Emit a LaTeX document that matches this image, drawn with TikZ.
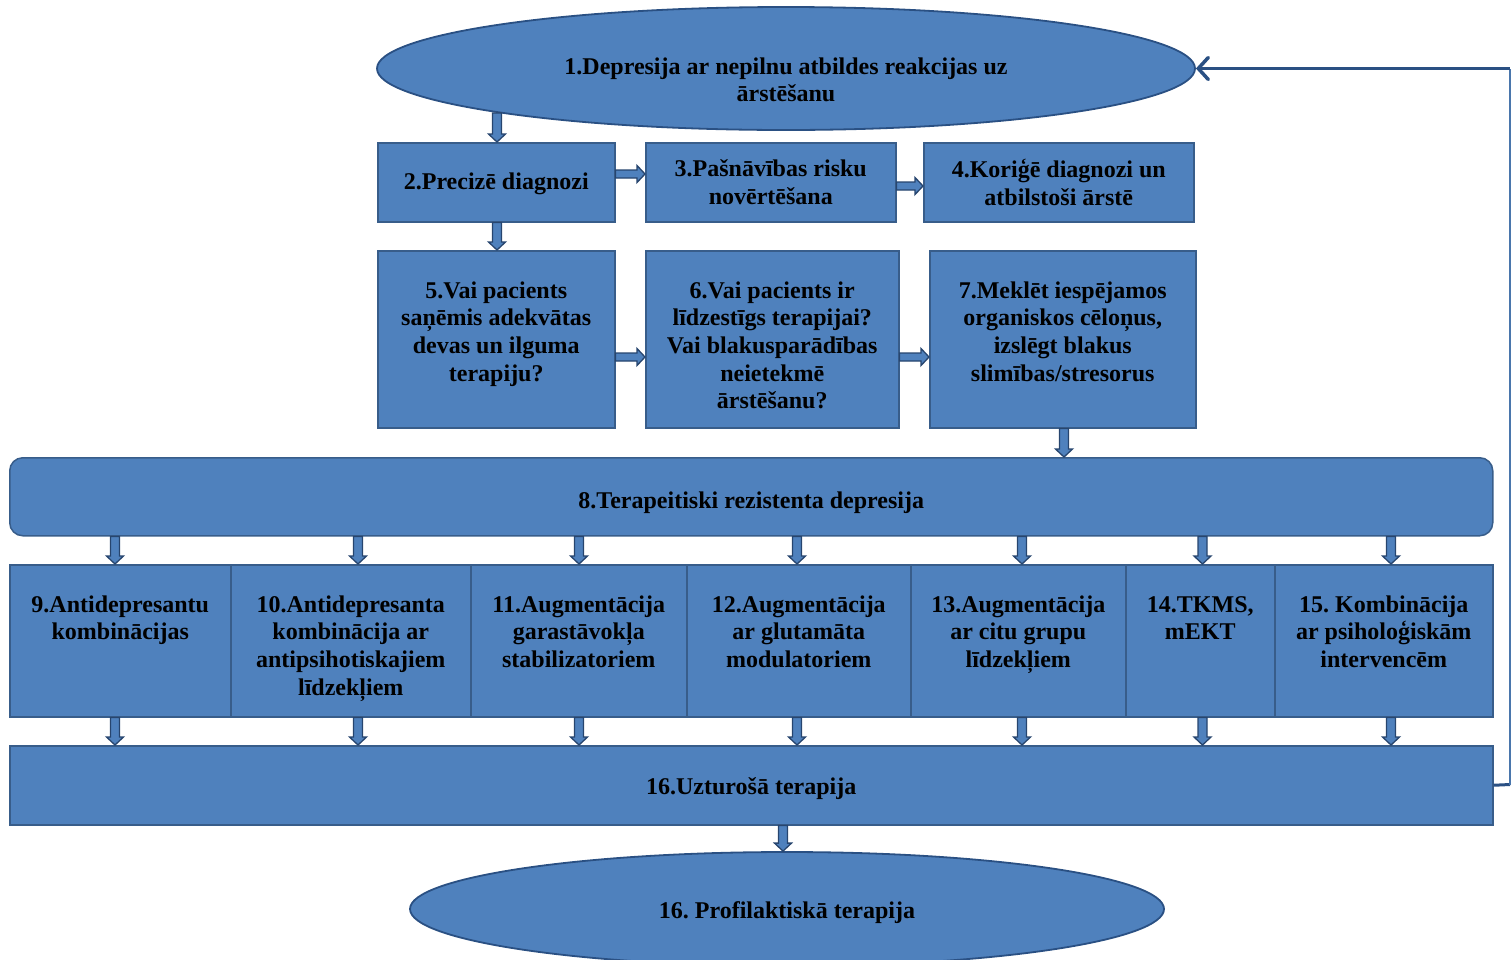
\documentclass[tikz,border=0pt]{standalone}
\usepackage{fontspec}
\setmainfont{Liberation Serif}
\usetikzlibrary{shapes.geometric,arrows.meta,calc}
\definecolor{fillb}{HTML}{4F81BD}
\definecolor{edgeb}{HTML}{385D8A}
\definecolor{arrb}{HTML}{27456E}
\definecolor{fbdark}{HTML}{2A5083}
\definecolor{fbthin}{HTML}{4A76AC}
\newcommand{\tbox}[3]{\parbox[c][#2][t]{#1}{\centering\rule{0pt}{47.5pt}#3}}
\newcommand{\dropby}[2]{\raisebox{-#1}[\height][\depth]{#2}}
\begin{document}
\frenchspacing
\begin{tikzpicture}[x=1pt,y=-1pt,
  txt/.style={font=\fontsize{24}{27.6}\selectfont\bfseries, text=black},
  box/.style={draw=edgeb, fill=fillb, line width=1.5pt, rectangle, inner sep=0pt, txt, align=center, anchor=north west},
  ell/.style={draw=fbdark, fill=fillb, line width=1.8pt, ellipse, inner sep=0pt, txt, align=center},
  blk/.style={fill=fillb, draw=arrb, line width=1.3pt, line join=miter},
  dn/.style={to path={let \p1=(\tikztostart), \p2=(\tikztotarget) in
     (\x1-4.5pt,\y1) -- (\x1+4.5pt,\y1) -- (\x1+4.5pt,\y2+8pt) -- (\x1+8.5pt,\y2+8pt)
     -- (\x1,\y2) -- (\x1-8.5pt,\y2+8pt) -- (\x1-4.5pt,\y2+8pt) -- cycle}},
  rt/.style={to path={let \p1=(\tikztostart), \p2=(\tikztotarget) in
     (\x1,\y1+4pt) -- (\x2-8pt,\y1+4pt) -- (\x2-8pt,\y1+8.5pt) -- (\x2,\y1)
     -- (\x2-8pt,\y1-8.5pt) -- (\x2-8pt,\y1-4pt) -- (\x1,\y1-4pt) -- cycle}}
]
\clip (0,0) rectangle (1511,959);

% top ellipse
\node[ell, minimum width=818pt, minimum height=123pt] (e1) at (786,68.5)
  {\parbox{460pt}{\centering\vspace{23pt}1.Depresija ar nepilnu atbildes reakcijas uz\\ārstēšanu}};

% row 2
\node[box, minimum width=237pt, minimum height=79pt] (b2) at (377,142) {\dropby{2pt}{2.Precizē diagnozi}};
\node[box, minimum width=250pt, minimum height=79pt] (b3) at (645,142) {3.Pašnāvības risku\\novērtēšana};
\node[box, minimum width=270pt, minimum height=79pt] (b4) at (923,142) {4.Koriģē diagnozi un\\atbilstoši ārstē};

% row 3
\node[box] (b5) at (377,250) {\tbox{237pt}{177pt}{5.Vai pacients\\saņēmis adekvātas\\devas un ilguma\\terapiju?}};
\node[box] (b6) at (645,250) {\tbox{253pt}{177pt}{6.Vai pacients ir\\līdzestīgs terapijai?\\Vai blakusparādības\\neietekmē\\ārstēšanu?}};
\node[box] (b7) at (929,250) {\tbox{266pt}{177pt}{7.Meklēt iespējamos\\organiskos cēloņus,\\izslēgt blakus\\slimības/stresorus}};

% row 8
\node[box, rounded corners=13pt, minimum width=1483pt, minimum height=78pt] (b8) at (9,457)
  {\dropby{6pt}{8.Terapeitiski rezistenta depresija}};

% treatment row
\node[box] (b9)  at (9,564)    {\tbox{221pt}{152pt}{9.Antidepresantu\\kombinācijas}};
\node[box] (b10) at (230,564)  {\tbox{240pt}{152pt}{10.Antidepresanta\\kombinācija ar\\antipsihotiskajiem\\līdzekļiem}};
\node[box] (b11) at (470,564)  {\tbox{216pt}{152pt}{11.Augmentācija\\garastāvokļa\\stabilizatoriem}};
\node[box] (b12) at (686,564)  {\tbox{224pt}{152pt}{12.Augmentācija\\ar glutamāta\\modulatoriem}};
\node[box] (b13) at (910,564)  {\tbox{215pt}{152pt}{13.Augmentācija\\ar citu grupu\\līdzekļiem}};
\node[box] (b14) at (1125,564) {\tbox{149pt}{152pt}{14.TKMS,\\mEKT}};
\node[box] (b15) at (1274,564) {\tbox{218pt}{152pt}{15. Kombinācija\\ar psiholoģiskām\\intervencēm}};

% maintenance
\node[box, minimum width=1483pt, minimum height=79pt] (b16) at (9,745) {\dropby{3pt}{16.Uzturošā terapija}};

% bottom ellipse
\node[ell, minimum width=754pt, minimum height=114pt] (e2) at (787,909) {\dropby{4pt}{16. Profilaktiskā terapija}};

% helper coordinates
\coordinate (x2) at (497,0);
\coordinate (x7) at (1064,0);
\coordinate (x9) at (115,0);
\coordinate (x10) at (358,0);
\coordinate (x11) at (579,0);
\coordinate (x12) at (797,0);
\coordinate (x13) at (1022,0);
\coordinate (x14) at (1202.5,0);
\coordinate (x15) at (1391,0);
\coordinate (x16) at (783,0);
\coordinate (y23) at (0,174);
\coordinate (y34) at (0,186);
\coordinate (y56) at (0,357);

% block arrows
\draw[blk] ($(x2 |- e1.south)+(0,-18)$) to[dn] (x2 |- b2.north);
\draw[blk] (x2 |- b2.south) to[dn] (x2 |- b5.north);
\draw[blk] (b2.east |- y23) to[rt] (b3.west |- y23);
\draw[blk] (b3.east |- y34) to[rt] (b4.west |- y34);
\draw[blk] (b5.east |- y56) to[rt] (b6.west |- y56);
\draw[blk] (b6.east |- y56) to[rt] (b7.west |- y56);
\draw[blk] (x7 |- b7.south) to[dn] (x7 |- b8.north);
\foreach \i in {9,...,15}{
  \draw[blk] (x\i |- b8.south) to[dn] (x\i |- b\i.north);
  \draw[blk] (x\i |- b\i.south) to[dn] (x\i |- b16.north);
}
\draw[blk] (x16 |- b16.south) to[dn] (x16 |- e2.north);

% feedback loop
\coordinate (fbA) at (1510,784.5);
\coordinate (fbB) at (1510,68.5);
\draw[fbdark, line width=3pt] (b16.east) -- (fbA);
\draw[fbthin, line width=1.5pt] (fbA) -- (fbB);
\draw[fbdark, line width=3.5pt, -{Straight Barb[length=10pt, width=22pt, line cap=round]}] (fbB) -- (e1.east);
\end{tikzpicture}
\end{document}
